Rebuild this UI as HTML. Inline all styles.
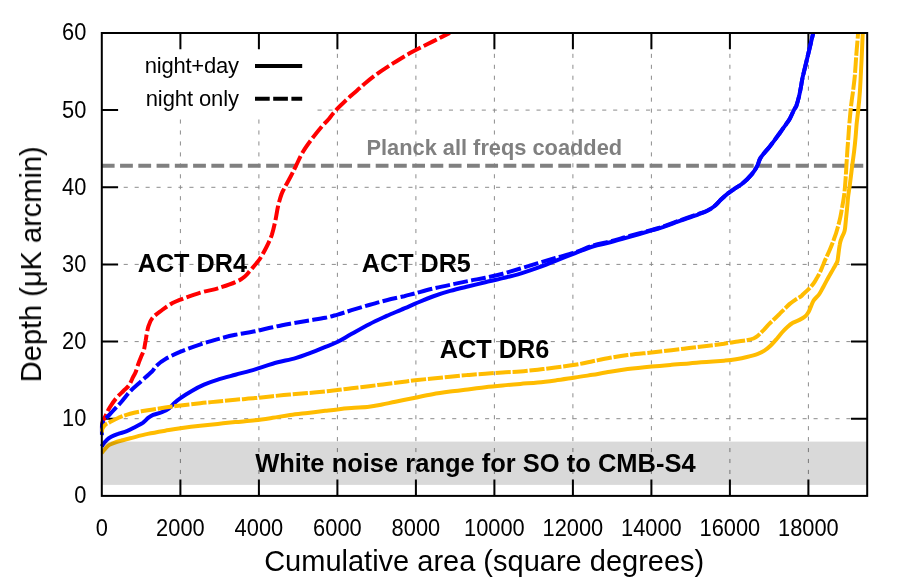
<!DOCTYPE html>
<html><head><meta charset="utf-8"><title>Depth vs cumulative area</title>
<style>html,body{margin:0;padding:0;background:#fff}body{width:913px;height:585px;overflow:hidden}svg{display:block}text{font-family:"Liberation Sans",sans-serif;fill:#000}</style>
</head><body>
<svg width="913" height="585" viewBox="0 0 913 585">
<rect width="913" height="585" fill="#fff"/>
<defs><clipPath id="plot"><rect x="99.8" y="33.0" width="769.4" height="462.9"/></clipPath></defs>
<g stroke="#8c8c8c" stroke-width="1" fill="none" stroke-dasharray="4.1 6.85">
<path d="M180.4 495.9V118.5"/>
<path d="M258.9 495.9V118.5"/>
<path d="M337.4 495.9V33.0"/>
<path d="M415.9 495.9V33.0"/>
<path d="M494.4 495.9V33.0"/>
<path d="M572.9 495.9V33.0"/>
<path d="M651.4 495.9V33.0"/>
<path d="M729.9 495.9V33.0"/>
<path d="M808.4 495.9V33.0"/>
<path d="M101.8 418.7H867.3"/>
<path d="M101.8 341.6H867.3"/>
<path d="M101.8 264.4H867.3"/>
<path d="M101.8 187.3H867.3"/>
<path d="M317.5 110.1H867.3"/>
</g>
<g stroke="#000" stroke-width="2" fill="none">
<path d="M180.4 495.9v-16.3M180.4 33.0v16.3"/>
<path d="M258.9 495.9v-16.3M258.9 33.0v16.3"/>
<path d="M337.4 495.9v-16.3M337.4 33.0v16.3"/>
<path d="M415.9 495.9v-16.3M415.9 33.0v16.3"/>
<path d="M494.4 495.9v-16.3M494.4 33.0v16.3"/>
<path d="M572.9 495.9v-16.3M572.9 33.0v16.3"/>
<path d="M651.4 495.9v-16.3M651.4 33.0v16.3"/>
<path d="M729.9 495.9v-16.3M729.9 33.0v16.3"/>
<path d="M808.4 495.9v-16.3M808.4 33.0v16.3"/>
<path d="M101.8 418.7h16.3M867.3 418.7h-16.3"/>
<path d="M101.8 341.6h16.3M867.3 341.6h-16.3"/>
<path d="M101.8 264.4h16.3M867.3 264.4h-16.3"/>
<path d="M101.8 187.3h16.3M867.3 187.3h-16.3"/>
<path d="M101.8 110.1h16.3M867.3 110.1h-16.3"/>
</g>
<path d="M101.8 165.8H867.3" stroke="#808080" stroke-width="4.0" stroke-dasharray="12.8 5.46" fill="none"/>
<g clip-path="url(#plot)" fill="none" stroke-width="4.0" stroke-linejoin="round">
<path stroke="#ff0000" stroke-dasharray="14.8 3.4" d="M101.8 428.0C101.9 427.1 101.7 424.5 102.4 422.3C103.1 420.1 104.7 417.5 105.9 415.0C107.1 412.5 107.9 410.4 109.7 407.5C111.5 404.6 114.2 400.6 116.5 397.9C118.8 395.1 121.4 393.1 123.4 391.0C125.5 388.9 127.2 387.9 128.8 385.6C130.4 383.3 131.8 379.7 132.9 377.4C134.1 375.1 134.8 374.2 135.7 371.9C136.6 369.6 137.5 366.2 138.4 363.7C139.3 361.2 140.2 359.1 141.1 356.8C142.0 354.5 143.1 352.8 143.9 350.0C144.7 347.2 144.9 344.2 145.7 340.3C146.4 336.3 147.2 330.1 148.4 326.3C149.5 322.6 150.3 320.5 152.6 317.8C154.9 315.1 158.8 312.5 162.1 310.0C165.4 307.6 169.4 304.8 172.5 303.1C175.6 301.4 175.9 301.4 180.6 299.6C185.2 297.9 194.2 294.6 200.4 292.7C206.7 290.8 212.1 290.0 217.9 288.3C223.8 286.5 231.1 284.1 235.5 282.1C239.9 280.2 242.0 278.8 244.5 276.7C247.0 274.7 248.2 272.8 250.7 269.9C253.2 267.0 256.8 263.2 259.5 259.4C262.1 255.5 264.4 251.1 266.5 247.0C268.6 242.8 270.4 239.0 271.9 234.6C273.3 230.1 274.4 225.1 275.4 220.5C276.4 215.8 277.0 210.8 278.0 206.5C279.0 202.1 280.4 197.3 281.5 194.3C282.5 191.2 282.7 191.4 284.2 188.4C285.8 185.4 288.8 180.0 290.8 176.3C292.8 172.5 294.0 169.8 296.0 165.8C298.0 161.7 300.2 156.4 303.0 151.7C305.8 147.0 309.5 142.1 312.7 137.8C315.9 133.5 319.7 129.0 322.2 126.0C324.7 123.1 326.2 122.0 327.9 120.0C329.7 118.0 331.0 116.0 332.7 114.0C334.4 112.0 336.1 110.0 337.9 108.1C339.6 106.3 341.0 104.9 343.2 102.9C345.3 100.9 347.9 98.5 350.6 96.0C353.4 93.5 357.5 90.1 359.8 88.1C362.2 86.1 361.8 86.0 364.6 83.7C367.4 81.4 372.1 77.5 376.8 74.1C381.4 70.8 387.0 67.1 392.5 63.6C398.1 60.1 404.4 56.2 410.0 53.1C415.6 49.9 421.6 47.0 426.2 44.7C430.8 42.4 433.7 41.0 437.6 39.0C441.5 37.0 447.8 33.9 449.8 32.9"/>
<path stroke="#0000ff" d="M101.8 446.5C102.0 446.2 101.9 446.0 102.6 445.0C103.3 444.0 104.6 442.0 106.1 440.7C107.5 439.3 109.2 437.9 111.2 436.8C113.2 435.7 115.5 434.8 118.1 433.9C120.7 432.9 123.9 432.4 126.8 431.2C129.7 430.1 133.0 428.2 135.7 426.8C138.3 425.4 140.7 424.3 142.8 422.9C144.8 421.4 146.4 419.3 148.1 417.9C149.8 416.6 150.8 415.9 153.1 414.9C155.4 414.0 159.2 413.3 161.9 412.2C164.6 411.1 167.0 409.9 169.1 408.3C171.2 406.8 172.5 404.7 174.4 403.0C176.4 401.2 177.9 399.9 180.8 397.9C183.7 395.8 187.9 393.1 191.8 390.9C195.7 388.7 199.7 386.6 204.0 384.7C208.4 382.8 212.7 381.2 217.9 379.6C223.2 377.9 229.2 376.4 235.4 374.7C241.6 373.0 249.0 371.1 255.2 369.3C261.4 367.4 266.0 365.5 272.7 363.7C279.4 361.8 289.7 359.7 295.5 358.1C301.4 356.5 302.9 355.8 307.9 353.9C312.9 352.1 320.4 349.0 325.4 346.9C330.4 344.9 333.4 343.9 337.8 341.7C342.2 339.5 346.5 336.7 351.8 333.8C357.0 330.9 363.4 327.2 369.3 324.2C375.1 321.2 380.9 318.6 386.7 315.9C392.6 313.3 399.6 310.5 404.3 308.4C409.1 306.4 410.6 305.6 415.3 303.6C420.1 301.6 427.0 298.6 432.8 296.5C438.6 294.3 444.4 292.5 450.2 290.9C456.1 289.2 461.9 287.9 467.8 286.5C473.6 285.1 479.5 283.7 485.3 282.3C491.1 280.9 496.9 279.6 502.8 278.1C508.6 276.7 514.6 275.4 520.4 273.6C526.3 271.9 532.1 269.8 538.0 267.7C543.8 265.5 549.3 263.3 555.5 260.8C561.7 258.4 569.1 255.5 575.3 253.1C581.5 250.7 586.9 248.3 592.7 246.5C598.6 244.7 604.4 243.8 610.2 242.3C616.0 240.8 620.9 239.4 627.8 237.4C634.8 235.4 646.0 232.1 651.8 230.4C657.7 228.7 658.1 228.8 662.9 227.2C667.6 225.5 674.6 222.8 680.5 220.7C686.3 218.6 693.6 216.2 698.0 214.6C702.4 212.9 704.1 212.4 706.8 211.0C709.4 209.7 711.6 208.4 714.0 206.5C716.4 204.6 718.7 201.7 721.0 199.5C723.4 197.3 725.6 195.3 728.0 193.4C730.4 191.5 733.0 189.9 735.5 188.2C738.0 186.4 740.3 185.3 743.0 183.0C745.8 180.7 749.5 176.9 751.9 174.1C754.3 171.3 755.7 168.9 757.2 166.1C758.7 163.3 758.7 160.6 760.8 157.4C762.8 154.2 766.6 150.4 769.4 146.9C772.2 143.4 775.6 138.8 777.4 136.3C779.2 133.8 779.1 134.0 780.5 132.0C781.9 130.0 784.5 126.5 786.0 124.3C787.5 122.1 788.5 121.1 789.8 118.8C791.1 116.5 792.7 112.5 793.8 110.3C794.9 108.1 795.5 107.9 796.4 105.7C797.2 103.5 798.1 100.2 798.9 96.9C799.7 93.6 800.5 89.3 801.1 86.0C801.7 82.6 801.6 82.2 802.7 77.0C803.9 71.8 806.3 62.2 808.0 55.0C809.7 47.8 812.1 38.0 813.0 34.0C813.9 30.0 813.5 31.5 813.6 31.0"/>
<path stroke="#0000ff" stroke-dasharray="14.8 3.4" d="M101.8 435.0C102.0 433.0 100.7 427.1 102.6 423.1C104.5 419.1 109.9 414.5 113.1 410.8C116.3 407.2 119.0 404.6 121.9 401.2C124.8 397.9 127.7 393.8 130.6 390.8C133.5 387.7 135.8 386.1 139.3 382.9C142.8 379.7 148.7 374.7 151.7 371.8C154.6 368.8 154.5 367.5 156.8 365.4C159.1 363.3 161.5 361.3 165.5 359.0C169.5 356.7 174.8 354.2 180.6 351.7C186.4 349.3 194.2 346.5 200.5 344.4C206.7 342.2 212.1 340.7 217.9 339.1C223.7 337.5 229.2 336.1 235.4 334.8C241.6 333.5 248.9 332.6 255.2 331.3C261.4 330.0 266.8 328.4 272.7 327.2C278.5 325.9 284.3 324.8 290.1 323.7C296.0 322.6 301.9 321.7 307.7 320.7C313.6 319.7 320.3 318.8 325.3 317.8C330.2 316.8 333.2 315.8 337.6 314.6C342.0 313.3 346.4 311.8 351.6 310.2C356.9 308.6 363.3 306.6 369.1 305.0C374.9 303.3 380.7 301.6 386.6 300.2C392.4 298.7 399.4 297.3 404.2 296.2C409.0 295.0 410.5 294.5 415.2 293.3C420.0 292.0 426.9 290.0 432.7 288.6C438.5 287.2 444.3 286.0 450.2 284.8C456.0 283.5 461.9 282.3 467.8 281.1C473.6 279.9 479.4 279.0 485.3 277.8C491.1 276.5 496.9 275.2 502.8 273.7C508.7 272.1 514.6 270.2 520.4 268.5C526.3 266.7 532.1 264.9 537.9 263.2C543.8 261.4 549.2 259.8 555.4 258.0C561.6 256.2 569.0 254.4 575.3 252.4C581.5 250.3 586.9 247.4 592.7 245.6C598.6 243.7 604.4 242.9 610.2 241.4C616.0 239.9 620.9 238.4 627.8 236.5C634.7 234.6 646.0 231.5 651.8 229.9C657.7 228.2 658.1 228.3 662.9 226.7C667.6 225.0 674.6 222.3 680.5 220.2C686.3 218.1 693.6 215.6 698.0 214.1C702.3 212.5 704.1 212.3 706.7 211.0C709.4 209.8 711.6 208.4 714.0 206.5C716.4 204.6 718.7 201.7 721.0 199.5C723.4 197.3 725.6 195.3 728.0 193.4C730.4 191.5 733.0 189.9 735.5 188.2C738.0 186.4 740.3 185.3 743.0 183.0C745.8 180.7 749.5 176.9 751.9 174.1C754.3 171.3 755.7 168.9 757.2 166.1C758.7 163.3 758.7 160.6 760.8 157.4C762.8 154.2 766.6 150.4 769.4 146.9C772.2 143.4 775.6 138.8 777.4 136.3C779.2 133.8 779.1 134.0 780.5 132.0C781.9 130.0 784.5 126.5 786.0 124.3C787.5 122.1 788.5 121.1 789.8 118.8C791.1 116.5 792.7 112.5 793.8 110.3C794.9 108.1 795.5 107.9 796.4 105.7C797.2 103.5 798.1 100.2 798.9 96.9C799.7 93.6 800.5 89.3 801.1 86.0C801.7 82.6 801.6 82.2 802.7 77.0C803.9 71.8 806.3 62.2 808.0 55.0C809.7 47.8 812.1 38.0 813.0 34.0C813.9 30.0 813.5 31.5 813.6 31.0"/>
<path stroke="#ffbc00" d="M101.8 452.8C102.0 452.7 101.6 453.2 102.6 452.0C103.6 450.9 106.1 447.4 107.8 446.0C109.5 444.6 110.5 444.4 112.8 443.4C115.1 442.5 118.6 441.3 121.5 440.5C124.4 439.6 125.8 439.4 130.2 438.3C134.6 437.2 141.9 435.1 147.8 433.9C153.6 432.6 159.8 431.6 165.2 430.7C170.7 429.8 174.6 429.1 180.4 428.3C186.3 427.5 194.1 426.5 200.3 425.8C206.5 425.1 212.0 424.5 217.8 423.9C223.6 423.3 229.1 422.7 235.3 422.1C241.5 421.5 248.9 421.0 255.1 420.3C261.3 419.6 266.8 418.7 272.6 417.8C278.5 416.9 284.3 415.8 290.1 415.0C296.0 414.2 301.8 413.6 307.7 412.9C313.5 412.2 320.2 411.4 325.2 410.8C330.2 410.2 333.1 409.8 337.5 409.4C341.9 408.9 346.2 408.5 351.5 408.1C356.7 407.6 363.9 407.3 369.0 406.7C374.1 406.1 377.8 405.3 382.1 404.5C386.5 403.7 389.9 402.8 395.4 401.7C400.9 400.5 408.9 398.9 415.2 397.7C421.4 396.4 426.8 395.2 432.6 394.2C438.5 393.2 444.3 392.4 450.1 391.6C455.9 390.8 461.9 390.2 467.7 389.5C473.5 388.8 479.4 387.9 485.2 387.2C491.0 386.5 496.8 386.0 502.7 385.5C508.5 384.9 514.4 384.4 520.3 383.9C526.1 383.4 531.9 383.1 537.8 382.5C543.6 381.9 549.1 381.2 555.3 380.4C561.5 379.6 568.9 378.4 575.1 377.5C581.3 376.6 586.8 375.7 592.6 374.8C598.5 373.8 604.3 372.7 610.1 371.8C616.0 370.8 620.8 370.0 627.7 369.1C634.6 368.2 644.4 367.2 651.7 366.5C659.0 365.8 665.3 365.3 671.5 364.8C677.7 364.3 683.1 363.8 689.0 363.4C694.8 362.9 700.6 362.5 706.5 362.1C712.3 361.6 721.0 360.9 724.1 360.7C727.2 360.4 723.0 360.8 725.0 360.6C727.0 360.4 732.4 359.8 736.0 359.2C739.6 358.6 743.2 357.9 746.9 357.0C750.5 356.1 755.0 354.9 757.9 353.8C760.8 352.7 762.2 352.0 764.4 350.6C766.6 349.2 769.0 347.1 771.0 345.2C773.0 343.3 774.7 341.3 776.5 339.2C778.3 337.1 780.2 334.5 782.0 332.5C783.8 330.5 785.6 328.6 787.4 327.0C789.2 325.4 790.9 324.0 792.9 322.8C794.9 321.6 797.5 320.9 799.5 319.9C801.5 318.9 803.5 317.9 805.0 316.6C806.5 315.3 807.4 313.9 808.4 312.2C809.4 310.5 810.0 308.6 810.9 306.6C811.8 304.6 812.4 302.4 813.7 300.4C815.0 298.4 817.4 296.6 818.9 294.6C820.4 292.6 821.3 290.7 822.6 288.3C823.9 285.9 825.3 283.1 826.8 280.4C828.3 277.7 830.1 274.4 831.5 272.0C832.9 269.6 834.0 267.6 835.0 265.9C836.0 264.1 836.8 262.9 837.3 261.5C837.8 260.1 837.6 260.4 838.0 257.5C838.4 254.6 839.2 247.4 839.8 244.3C840.3 241.2 840.6 240.8 841.3 238.8C842.0 236.8 843.6 234.0 844.2 232.2C844.8 230.4 844.8 230.4 845.1 227.9C845.4 225.4 845.8 220.6 846.2 216.9C846.6 213.2 847.0 209.4 847.3 205.9C847.6 202.5 847.8 199.1 848.2 196.0C848.6 192.9 849.1 190.2 849.5 187.3C849.9 184.5 850.1 182.4 850.6 178.8C851.1 175.2 851.6 170.3 852.2 165.7C852.8 161.1 853.5 156.2 854.1 151.4C854.7 146.6 855.2 141.5 855.6 137.0C856.0 132.5 856.2 128.8 856.6 124.3C857.0 119.8 857.7 115.8 858.2 110.3C858.8 104.8 859.5 97.3 859.9 91.4C860.3 85.5 860.5 81.1 860.8 75.0C861.1 68.9 861.5 61.8 861.8 55.0C862.1 48.2 862.5 38.0 862.7 34.0C862.9 30.0 862.9 31.5 862.9 31.0"/>
<path stroke="#ffbc00" stroke-dasharray="15.2 1.8" stroke-dashoffset="4.6" d="M101.8 432.0C102.0 431.4 102.1 429.5 102.6 428.3C103.2 427.1 104.0 425.9 105.1 424.9C106.2 423.9 107.2 423.6 109.4 422.4C111.5 421.3 114.6 419.5 118.1 418.0C121.6 416.6 125.3 415.0 130.2 413.7C135.1 412.4 141.9 411.2 147.7 410.2C153.6 409.2 159.8 408.4 165.2 407.6C170.7 406.8 174.6 406.2 180.4 405.5C186.2 404.8 194.1 403.9 200.3 403.2C206.5 402.5 211.9 402.1 217.8 401.5C223.6 400.9 229.1 400.3 235.3 399.7C241.5 399.1 248.9 398.7 255.1 398.1C261.3 397.5 266.7 396.8 272.6 396.2C278.4 395.6 284.2 395.0 290.1 394.5C295.9 394.0 301.8 393.6 307.7 393.1C313.5 392.6 320.2 392.0 325.2 391.5C330.2 391.0 333.1 390.6 337.5 390.1C341.9 389.6 346.2 388.9 351.5 388.3C356.7 387.6 363.2 386.9 369.0 386.2C374.8 385.5 380.7 384.6 386.5 383.9C392.4 383.1 399.3 382.3 404.1 381.7C408.9 381.1 410.3 380.7 415.1 380.2C419.8 379.7 426.7 379.1 432.6 378.5C438.4 377.9 444.2 377.3 450.1 376.7C455.9 376.1 461.8 375.5 467.7 375.0C473.5 374.5 479.3 374.1 485.2 373.7C491.0 373.3 496.8 372.9 502.7 372.5C508.5 372.1 514.4 372.0 520.3 371.5C526.1 371.0 531.9 370.3 537.8 369.7C543.6 369.0 549.1 368.4 555.3 367.6C561.5 366.8 568.9 365.8 575.1 364.8C581.4 363.7 586.8 362.5 592.7 361.3C598.5 360.1 604.3 358.8 610.1 357.8C616.0 356.8 620.8 356.0 627.7 355.1C634.6 354.2 644.4 353.3 651.7 352.5C659.0 351.7 665.3 350.9 671.5 350.2C677.7 349.5 683.2 348.8 689.0 348.1C694.8 347.4 700.6 346.7 706.5 346.0C712.4 345.3 721.0 344.1 724.1 343.7C727.2 343.3 723.0 343.8 725.0 343.5C727.0 343.2 732.4 342.4 736.0 341.8C739.6 341.2 744.0 340.8 746.9 340.2C749.8 339.6 751.7 339.2 753.5 338.5C755.3 337.8 756.3 337.2 757.9 335.8C759.5 334.4 761.4 332.3 763.3 330.4C765.1 328.5 767.1 326.1 769.0 324.2C770.9 322.3 772.6 320.8 774.4 319.0C776.2 317.2 778.0 315.4 779.8 313.7C781.6 311.9 783.2 310.2 785.0 308.5C786.8 306.8 788.5 304.9 790.3 303.4C792.0 301.9 793.8 300.8 795.5 299.6C797.2 298.5 799.5 297.4 800.8 296.5C802.1 295.6 801.8 295.5 803.1 294.3C804.4 293.1 806.6 291.2 808.4 289.4C810.2 287.6 812.2 285.3 813.7 283.3C815.2 281.3 816.2 279.1 817.3 277.3C818.3 275.5 819.0 274.4 820.0 272.3C821.0 270.2 822.2 267.0 823.3 264.5C824.3 262.0 825.2 259.9 826.3 257.5C827.4 255.1 828.5 252.9 829.8 249.8C831.1 246.7 832.8 242.5 834.1 238.8C835.5 235.2 836.6 231.6 837.6 227.9C838.7 224.2 839.6 220.6 840.4 216.9C841.2 213.2 841.8 209.2 842.4 205.9C843.0 202.7 843.4 200.2 843.8 197.5C844.2 194.8 844.4 193.1 844.7 190.0C845.0 186.9 845.3 182.9 845.6 178.8C845.9 174.8 846.1 170.3 846.4 165.7C846.7 161.1 847.0 156.2 847.3 151.4C847.6 146.6 848.1 141.5 848.4 137.0C848.7 132.5 848.9 128.8 849.3 124.3C849.7 119.8 850.2 114.3 850.6 110.3C851.0 106.2 851.4 103.2 851.8 100.0C852.2 96.8 852.5 95.6 853.0 91.4C853.5 87.2 854.4 81.1 854.9 75.0C855.4 68.9 855.8 61.4 856.3 55.0C856.8 48.6 857.5 40.8 857.8 36.8C858.1 32.8 858.1 32.0 858.2 31.0"/>
</g>
<rect x="101.8" y="441.6" width="765.4" height="43.3" fill="#000" fill-opacity="0.15"/>
<rect x="101.8" y="33.0" width="765.4" height="462.9" fill="none" stroke="#000" stroke-width="2"/>
<g opacity="0.999">
<g font-size="23">
<text transform="translate(101.8 536.4) scale(0.950 1)" text-anchor="middle">0</text>
<text transform="translate(180.4 536.4) scale(0.950 1)" text-anchor="middle">2000</text>
<text transform="translate(258.9 536.4) scale(0.950 1)" text-anchor="middle">4000</text>
<text transform="translate(337.4 536.4) scale(0.950 1)" text-anchor="middle">6000</text>
<text transform="translate(415.9 536.4) scale(0.950 1)" text-anchor="middle">8000</text>
<text transform="translate(494.4 536.4) scale(0.950 1)" text-anchor="middle">10000</text>
<text transform="translate(572.9 536.4) scale(0.950 1)" text-anchor="middle">12000</text>
<text transform="translate(651.4 536.4) scale(0.950 1)" text-anchor="middle">14000</text>
<text transform="translate(729.9 536.4) scale(0.950 1)" text-anchor="middle">16000</text>
<text transform="translate(808.4 536.4) scale(0.950 1)" text-anchor="middle">18000</text>
<text transform="translate(86.4 503.3) scale(0.950 1)" text-anchor="end">0</text>
<text transform="translate(86.4 426.1) scale(0.950 1)" text-anchor="end">10</text>
<text transform="translate(86.4 349.0) scale(0.950 1)" text-anchor="end">20</text>
<text transform="translate(86.4 271.8) scale(0.950 1)" text-anchor="end">30</text>
<text transform="translate(86.4 194.7) scale(0.950 1)" text-anchor="end">40</text>
<text transform="translate(86.4 117.5) scale(0.950 1)" text-anchor="end">50</text>
<text transform="translate(86.4 40.3) scale(0.950 1)" text-anchor="end">60</text>
</g>
<text x="484.2" y="571.4" font-size="29" text-anchor="middle">Cumulative area (square degrees)</text>
<text transform="translate(41 264.3) rotate(-90)" font-size="29" text-anchor="middle">Depth (μK arcmin)</text>
<g font-size="22"><text x="238.8" y="73" text-anchor="end" letter-spacing="-0.22">night+day</text><text x="238.9" y="105.9" text-anchor="end" letter-spacing="-0.1">night only</text></g>
<path d="M255 65.9H302.2" stroke="#000" stroke-width="4.0" fill="none"/>
<path d="M255 98.8H302.2" stroke="#000" stroke-width="4.0" stroke-dasharray="14.7 3.5" fill="none"/>
<g font-weight="bold">
<text transform="translate(137.7 272.3) scale(0.952 1)" font-size="26.5">ACT DR4</text>
<text transform="translate(361.8 272.3) scale(0.95 1)" font-size="26.5">ACT DR5</text>
<text transform="translate(439.8 357.6) scale(0.954 1)" font-size="26.5">ACT DR6</text>
<text x="366.5" y="155.2" font-size="21.8" style="fill:#808080">Planck all freqs coadded</text>
<text transform="translate(475.4 471.8) scale(0.962 1)" font-size="26.5" text-anchor="middle">White noise range for SO to CMB-S4</text>
</g>
</g>
</svg></body></html>
